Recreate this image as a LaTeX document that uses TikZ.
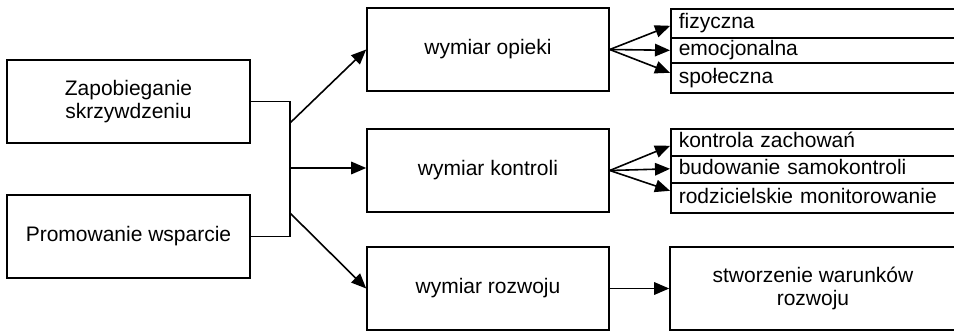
\documentclass[tikz,border=0pt]{standalone}
\usepackage{fontspec}
\setmainfont{Liberation Sans}
\usetikzlibrary{arrows.meta,calc}
\begin{document}
\begin{tikzpicture}[x=1pt,y=-1pt,line width=1.6pt,
  txt/.style={font=\fontsize{21}{23}\selectfont},
  box/.style={txt,draw,rectangle,inner sep=0pt,align=center,minimum height=83pt},
  row/.style={txt,draw,rectangle,anchor=north west,inner xsep=8pt,inner ysep=0pt,
    text width=270pt,align=left,text height=15.5pt,text depth=4.5pt},
  arr/.style={-{Triangle[length=15pt,width=12.5pt]}}]
\clip (0,0) rectangle (954,331);
% left boxes
\node[box,minimum width=243pt] (z) at (128.5,101.5) {Zapobieganie\\skrzywdzeniu};
\node[box,minimum width=243pt] (p) at (128.5,236.5) {Promowanie wsparcie};
% middle boxes
\node[box,minimum width=242pt] (o) at (488,49.5) {wymiar opieki};
\node[box,minimum width=242pt] (k) at (488,170.5) {wymiar kontroli};
\node[box,minimum width=242pt] (r) at (488,288.5) {wymiar rozwoju};
% right boxes
\node[row,minimum height=29pt] (f1) at (670,8) {fizyczna};
\node[row,minimum height=25pt] (f2) at (670,37) {emocjonalna};
\node[row,minimum height=30pt] (f3) at (670,62) {społeczna};
\node[row,minimum height=27pt] (g1) at (670,128) {kontrola zachowań};
\node[row,minimum height=27pt] (g2) at (670,155) {budowanie samokontroli};
\node[row,minimum height=30pt] (g3) at (670,182) {rodzicielskie monitorowanie};
\node[box,minimum width=286pt] (s) at (813,288.5) {stworzenie warunków\\rozwoju};
% junction
\coordinate (jx) at (290,0);
\coordinate (j1) at (290,123);
\coordinate (j2) at (290,168);
\coordinate (j3) at (290,213);
\draw (z.east) -| (jx |- p.east) -- (p.east);
\draw[arr] (j1) -- (o.west);
\draw[arr] (j2) -- (j2 -| k.west);
\draw[arr] (j3) -- (r.west);
% fan-outs
\draw[arr] (o.east) -- ([yshift=-2.5pt]f1.west);
\draw[arr] (o.east) -- (f2.west);
\draw[arr] (o.east) -- ([yshift=5pt]f3.west);
\draw[arr] (k.east) -- ([yshift=-3.5pt]g1.west);
\draw[arr] (k.east) -- ([yshift=0.5pt]g2.west);
\draw[arr] (k.east) -- ([yshift=7pt]g3.west);
\draw[arr] (r.east) -- (r.east -| s.west);
\end{tikzpicture}
\end{document}
